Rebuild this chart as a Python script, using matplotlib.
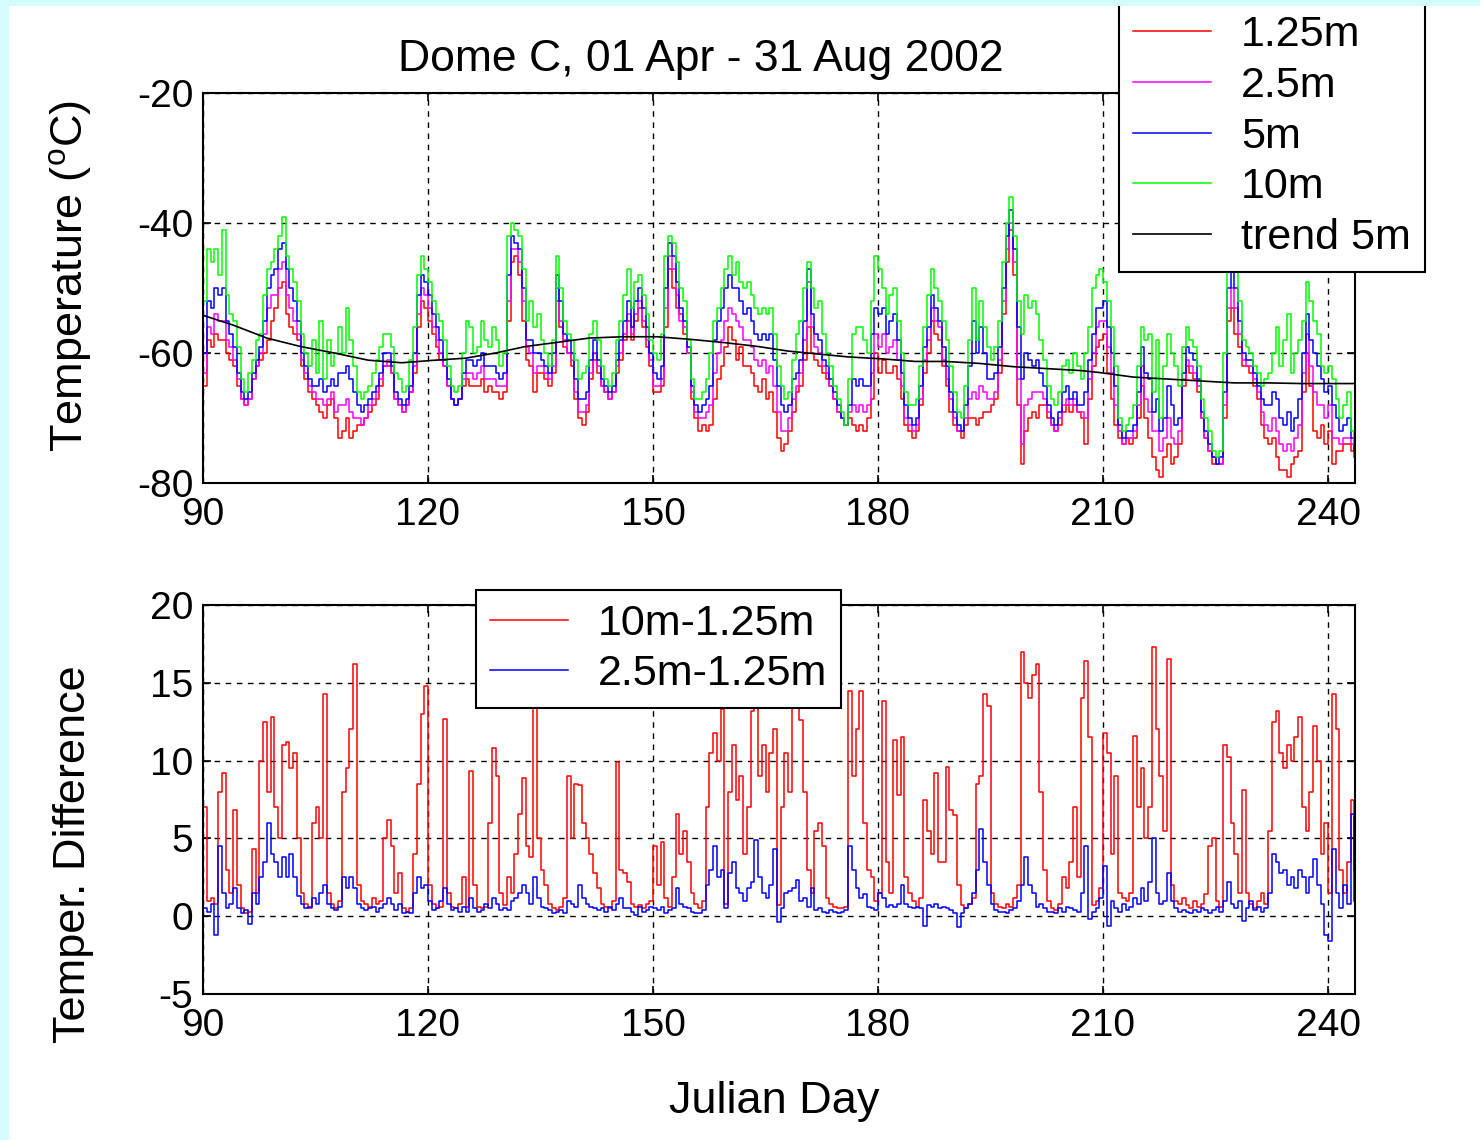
################################################################
# -*- coding: utf-8 -*-
################################################################
import numpy as np
import matplotlib as ml
ml.use('Agg')
from matplotlib import pyplot as plt
from matplotlib.patches import Rectangle
################################################################

# half-day samples, Julian day 90 .. 243.5
days = np.arange(90, 244, 0.5)

t10 = [-52, -44, -46, -44, -48, -41, -51, -54, -55, -59,
       -64, -66, -63, -61, -58, -57, -51, -47, -46, -44,
       -42, -39, -45, -47, -49, -52, -57, -60, -62, -58,
       -63, -55, -64, -58, -62, -60, -56, -60, -53, -58,
       -62, -66, -67, -66, -65, -63, -61, -59, -57, -57,
       -59, -63, -64, -66, -65, -61, -56, -48, -45, -47,
       -49, -52, -54, -55, -58, -62, -65, -66, -65, -60,
       -55, -56, -60, -59, -55, -58, -59, -56, -58, -62,
       -60, -42, -40, -41, -42, -47, -55, -52, -56, -54,
       -58, -60, -62, -58, -45, -50, -55, -57, -58, -61,
       -64, -63, -62, -57, -55, -58, -62, -64, -65, -63,
       -58, -55, -51, -47, -53, -49, -48, -51, -54, -58,
       -60, -61, -57, -45, -42, -43, -46, -50, -52, -58,
       -64, -67, -67, -66, -64, -60, -55, -53, -50, -47,
       -45, -48, -46, -49, -50, -49, -51, -53, -54, -53,
       -54, -53, -57, -62, -65, -67, -66, -61, -57, -55,
       -50, -46, -50, -53, -52, -57, -60, -62, -65, -67,
       -69, -71, -64, -57, -56, -56, -58, -60, -52, -45,
       -47, -50, -54, -51, -50, -55, -60, -66, -68, -68,
       -67, -62, -56, -51, -47, -50, -52, -55, -58, -62,
       -66, -69, -70, -65, -58, -50, -58, -52, -56, -59,
       -61, -59, -55, -46, -40, -36, -42, -52, -57, -51,
       -53, -52, -54, -58, -61, -65, -67, -68, -66, -62,
       -61, -63, -60, -62, -64, -60, -56, -50, -48, -47,
       -49, -52, -56, -62, -70, -72, -71, -70, -68, -62,
       -56, -58, -57, -66, -58, -70, -62, -57, -60, -62,
       -65, -59, -56, -58, -59, -62, -67, -70, -72, -75,
       -76, -75, -60, -46, -44, -47, -52, -58, -59, -60,
       -62, -63, -65, -64, -63, -60, -56, -62, -58, -54,
       -63, -60, -58, -55, -49, -52, -55, -57, -62, -63,
       -62, -64, -67, -70, -68, -66, -72, -74]

t5 = [-60, -52, -53, -50, -51, -50, -55, -57, -59, -63,
      -66, -67, -66, -63, -61, -59, -55, -50, -48, -47,
      -44, -43, -47, -50, -52, -55, -60, -62, -64, -65,
      -65, -64, -66, -65, -64, -65, -63, -63, -62, -64,
      -66, -68, -69, -68, -67, -66, -65, -63, -60, -60,
      -62, -66, -67, -68, -67, -65, -60, -51, -48, -49,
      -51, -54, -56, -58, -61, -64, -67, -68, -67, -63,
      -61, -61, -62, -61, -60, -62, -62, -62, -63, -64,
      -63, -48, -42, -43, -44, -50, -58, -58, -60, -60,
      -61, -62, -63, -60, -48, -52, -57, -58, -60, -64,
      -67, -67, -66, -61, -58, -61, -64, -65, -66, -65,
      -61, -58, -55, -52, -56, -52, -50, -53, -56, -60,
      -63, -64, -62, -50, -43, -45, -49, -53, -55, -59,
      -65, -68, -69, -68, -67, -65, -58, -55, -53, -50,
      -48, -50, -50, -52, -54, -53, -55, -57, -58, -57,
      -58, -57, -61, -65, -68, -69, -68, -64, -63, -61,
      -55, -47, -54, -57, -58, -61, -62, -64, -66, -68,
      -70, -71, -68, -64, -65, -64, -65, -65, -57, -53,
      -54, -53, -57, -55, -54, -58, -63, -68, -70, -71,
      -70, -65, -59, -56, -51, -53, -55, -59, -62, -66,
      -69, -71, -72, -68, -62, -55, -60, -56, -60, -64,
      -64, -63, -59, -50, -42, -38, -44, -56, -64, -60,
      -61, -62, -61, -63, -65, -68, -70, -71, -69, -66,
      -65, -67, -66, -68, -68, -66, -61, -57, -53, -53,
      -52, -56, -60, -65, -71, -73, -72, -72, -71, -66,
      -59, -63, -64, -69, -67, -72, -70, -65, -68, -71,
      -70, -63, -59, -60, -61, -64, -69, -72, -74, -76,
      -77, -76, -66, -50, -47, -50, -55, -60, -61, -61,
      -63, -65, -67, -68, -68, -66, -67, -70, -71, -69,
      -72, -70, -67, -60, -54, -58, -60, -62, -64, -66,
      -65, -68, -70, -72, -71, -70, -73, -75]

t25 = [-63, -56, -57, -54, -55, -55, -58, -59, -61, -64,
       -67, -68, -67, -64, -62, -60, -57, -53, -51, -51,
       -47, -46, -51, -53, -55, -57, -61, -63, -65, -66,
       -67, -67, -68, -67, -66, -69, -68, -68, -67, -69,
       -70, -70, -71, -70, -68, -67, -66, -64, -62, -61,
       -63, -67, -68, -69, -68, -66, -62, -54, -50, -51,
       -53, -56, -58, -60, -62, -65, -67, -68, -67, -64,
       -63, -63, -64, -63, -62, -64, -64, -64, -65, -65,
       -65, -52, -44, -44, -46, -52, -59, -60, -63, -62,
       -62, -63, -64, -62, -50, -55, -58, -60, -61, -66,
       -69, -69, -68, -63, -60, -62, -65, -66, -67, -66,
       -62, -60, -57, -54, -57, -54, -52, -55, -58, -61,
       -65, -65, -64, -53, -45, -47, -51, -55, -56, -60,
       -66, -69, -70, -70, -69, -68, -63, -60, -58, -55,
       -53, -54, -55, -56, -58, -58, -59, -61, -62, -61,
       -63, -62, -65, -69, -72, -72, -70, -67, -65, -63,
       -58, -49, -56, -59, -60, -62, -63, -65, -67, -69,
       -70, -71, -69, -68, -69, -68, -69, -68, -63, -57,
       -59, -57, -60, -59, -58, -61, -65, -70, -71, -72,
       -71, -67, -61, -58, -53, -55, -56, -61, -64, -67,
       -70, -72, -72, -70, -67, -66, -67, -65, -66, -67,
       -67, -66, -61, -52, -44, -40, -46, -64, -74, -68,
       -67, -66, -66, -66, -67, -69, -71, -72, -70, -68,
       -67, -68, -67, -69, -69, -70, -64, -60, -56, -55,
       -55, -59, -63, -68, -72, -74, -73, -73, -72, -68,
       -62, -67, -69, -72, -72, -75, -73, -70, -73, -74,
       -72, -64, -61, -62, -63, -65, -70, -73, -75, -76,
       -77, -77, -68, -53, -50, -53, -57, -61, -62, -62,
       -64, -66, -69, -71, -72, -70, -72, -74, -75, -74,
       -75, -73, -71, -63, -57, -62, -66, -68, -68, -70,
       -68, -73, -73, -74, -73, -73, -74, -75]

t125 = [-65, -58, -59, -57, -58, -58, -60, -61, -62, -65,
        -67, -68, -67, -64, -62, -61, -60, -58, -55, -53,
        -50, -49, -54, -56, -57, -58, -62, -64, -66, -67,
        -68, -69, -70, -68, -67, -70, -73, -72, -70, -73,
        -72, -71, -71, -70, -69, -68, -67, -65, -62, -62,
        -63, -67, -68, -69, -68, -66, -63, -56, -52, -53,
        -55, -57, -59, -61, -62, -65, -67, -68, -67, -65,
        -64, -65, -65, -65, -64, -66, -65, -66, -66, -67,
        -66, -55, -46, -45, -48, -55, -61, -62, -66, -63,
        -63, -64, -65, -63, -52, -56, -59, -60, -62, -67,
        -70, -71, -69, -64, -61, -63, -65, -66, -67, -66,
        -63, -61, -58, -55, -58, -55, -53, -56, -59, -62,
        -66, -66, -65, -56, -47, -50, -53, -54, -57, -60,
        -67, -70, -72, -71, -72, -71, -67, -64, -62, -59,
        -56, -58, -61, -59, -62, -62, -63, -65, -66, -64,
        -67, -66, -69, -73, -75, -74, -72, -69, -66, -65,
        -61, -56, -60, -61, -62, -63, -64, -65, -67, -69,
        -70, -71, -70, -71, -72, -71, -72, -70, -67, -60,
        -63, -61, -63, -63, -62, -64, -67, -71, -72, -73,
        -72, -68, -63, -60, -55, -57, -58, -62, -65, -69,
        -71, -72, -73, -71, -70, -70, -71, -70, -69, -69,
        -68, -67, -63, -54, -46, -41, -48, -68, -77, -72,
        -70, -69, -70, -68, -68, -70, -71, -72, -71, -69,
        -68, -69, -68, -69, -70, -74, -67, -62, -59, -58,
        -57, -63, -67, -71, -73, -74, -73, -74, -73, -70,
        -65, -70, -73, -76, -78, -79, -76, -74, -77, -76,
        -74, -65, -62, -63, -64, -66, -70, -73, -75, -77,
        -77, -77, -70, -55, -53, -57, -59, -62, -62, -63,
        -65, -67, -71, -73, -74, -73, -76, -78, -78, -79,
        -77, -76, -75, -66, -60, -65, -72, -73, -71, -74,
        -72, -77, -75, -75, -74, -74, -75, -76]

trend_days = [90, 94, 98.5, 103, 107.5, 112, 116.5, 121, 125, 129,
              133, 137, 141.5, 146, 150.5, 155, 159.5, 164, 168, 171.5,
              176, 180.5, 185, 189, 193.5, 198, 202.5, 207, 209.5, 214,
              218.5, 223, 227.5, 232, 236.5, 243.5]
trend5 = [-54.2, -55.7, -57.7, -59.0, -60.0, -61.1, -61.5, -61.1, -60.8, -60.0,
          -59.0, -58.4, -57.7, -57.5, -57.5, -57.9, -58.4, -59.0, -59.7, -60.1,
          -60.6, -60.9, -61.3, -61.3, -61.6, -62.1, -62.4, -62.7, -63.0, -63.7,
          -64.0, -64.3, -64.6, -64.6, -64.7, -64.7]

# 10m - 1.25m
d10 = [7, 1, 1.2, 0.8, 8, 9.2, 3, 1.5, 6.8, 2,
       0.5, 0.2, 0.3, 4.3, 1.5, 10, 12.5, 8, 12.8, 7,
       5, 11, 11.2, 9.5, 10.5, 5, 1.5, 0.8, 0.5, 6,
       7, 5, 14.3, 1.5, 0.8, 0.5, 1, 8, 9.5, 12,
       16.2, 2, 1, 0.8, 0.6, 1.2, 0.8, 1, 5, 6.2,
       4.5, 1.5, 2.8, 0.5, 0.3, 0.5, 4, 8.5, 13, 14.8,
       2, 0.8, 0.5, 0.6, 12.7, 1.5, 0.6, 0.5, 0.8, 2.5,
       0.6, 9.3, 2, 0.6, 0.5, 0.6, 6, 10.8, 9, 1.5,
       0.7, 2.5, 1.5, 4, 6.6, 8.9, 4.5, 3.8, 13.8, 5,
       3, 2, 0.8, 0.5, 0.4, 0.6, 1.2, 9, 5, 8.5,
       8.4, 6, 5, 4, 2.8, 1.8, 0.8, 0.6, 0.5, 1,
       9.9, 3, 2.8, 2.2, 0.8, 0.6, 0.7, 0.5, 0.8, 1,
       4.5, 2, 4.8, 1.2, 0.6, 2.5, 6.6, 4, 5.5, 3.5,
       1.5, 0.8, 0.5, 1, 7, 10.5, 11.8, 10, 13.3, 0.8,
       8, 11, 7.5, 9, 4, 7, 13.2, 13.8, 9, 11,
       8, 10.5, 12, 0.7, 7, 10.5, 8, 15, 14, 12.6,
       8, 3, 1.5, 5.5, 6, 4.5, 1.2, 0.8, 0.6, 0.5,
       0.5, 0.6, 14.5, 9, 12, 14.5, 6, 3, 2.5, 1,
       1.5, 13.8, 3.5, 1.5, 11.3, 7.8, 11.5, 2.5, 1.5, 1,
       0.6, 1.2, 7.5, 5.5, 4, 9.2, 3.5, 3.5, 9.6, 6.8,
       6.5, 2, 0.7, 0.5, 0.8, 1.2, 8.5, 9, 14.3, 13.5,
       1.5, 0.8, 0.6, 0.5, 0.8, 0.6, 1.2, 2, 17, 15,
       14, 15.5, 16.2, 8, 3, 1, 0.5, 0.4, 0.8, 2.5,
       1.8, 3.5, 7, 2.5, 14, 16.4, 11.5, 0.7, 1, 1.8,
       11.8, 10.5, 4, 9, 1.5, 1.2, 1, 1.5, 11.6, 7,
       9.5, 5, 7, 17.3, 12, 9, 5.5, 16.5, 2, 1,
       0.8, 1.2, 0.7, 0.5, 1, 0.6, 0.8, 1.4, 4.5, 5,
       1, 0.6, 11, 10.2, 6, 4, 1.5, 8.1, 1.5, 0.8,
       0.5, 1, 1.5, 0.8, 5.5, 12.5, 13.2, 10.5, 9.5, 11,
       10, 11.5, 12.8, 7, 5.5, 8, 12.2, 10, 4, 6,
       1.5, 14.3, 12, 3, 1.5, 3.5, 7.5, 3]

# 2.5m - 1.25m
d25 = [0.5, 0.3, 0.8, -1.2, 4.5, 1.5, 0.5, 0.8, 1.8, 0.5,
       0.2, 0.4, -0.5, 1.5, 0.8, 2.5, 3.5, 6, 4, 3.5,
       2.5, 3.8, 2.5, 4, 2.5, 1.3, 0.8, 0.5, 0.6, 1.2,
       0.8, 1.5, 2, 0.8, 0.5, 0.4, 0.6, 2.5, 1.8, 2.5,
       1.8, 0.8, 0.5, 0.4, 0.5, 0.6, 0.3, 0.5, 0.8, 1.2,
       0.8, 0.4, 0.8, 0.2, 0.3, 0.2, 1.5, 2.5, 1.8, 2,
       1, 0.4, 0.5, 1, 1.8, 0.8, 0.4, 0.5, 0.3, 0.6,
       0.3, 1.2, 0.5, 0.3, 0.4, 0.8, 0.5, 1.2, 0.8, 0.4,
       0.5, 0.4, 1, 1.2, 1.5, 2, 1.5, 0.8, 2.5, 1.2,
       0.6, 0.5, 0.4, 0.2, 0.3, 0.4, 0.2, 1, 0.8, 0.6,
       2, 1.2, 0.8, 0.6, 0.5, 0.4, 0.5, 0.3, 0.6, 0.4,
       0.8, 1.2, 0.5, 0.5, 0.3, 0.1, 0.6, 0.3, 0.4, 0.6,
       0.5, 0.4, 0.6, 0.2, 0.4, 0.5, 1.8, 0.8, 0.6, 0.5,
       0.3, 0.2, 0.2, 0.4, 2, 3, 4.5, 2.5, 3, 0.5,
       2.8, 3.5, 1.8, 1.5, 1, 1.8, 2.2, 4.9, 2.5, 1.5,
       1.2, 2, 4.3, -0.4, 0.5, 1.5, 1.6, 1.8, 2.3, 1,
       1.2, 0.6, 1.8, 0.4, 0.5, 0.3, 0.2, 0.4, 0.3, 0.2,
       0.3, 0.4, 4.5, 3, 1.8, 1.2, 1.4, 0.6, 0.5, 0.4,
       1.5, 1.2, 0.6, 0.7, 0.6, 0.8, 2, 0.8, 0.6, 0.5,
       0.6, 0.5, -0.6, 0.7, 0.6, 0.8, 0.5, 0.6, 0.5, 0.4,
       0.2, -0.7, 0.2, 0.5, 0.8, 1.5, 3, 5.6, 3.5, 2,
       0.8, 0.4, 0.3, 0.3, 0.2, 0.4, 0.5, 1, 2, 3.8,
       2, 1.5, 0.6, 0.8, 0.5, 0.3, 0.3, 0.2, 0.5, 0.3,
       0.6, 0.5, 0.4, 0.3, 1.5, 4.5, -0.2, 0.3, 0.5, 1.2,
       3.2, -0.6, 1, 0.5, 0.3, 0.8, 0.4, 0.6, 1.2, 0.8,
       1.8, 1, 2.2, 5, 1.5, 0.8, 1, 2.8, 1, 0.5,
       0.3, 0.4, 0.3, 0.2, 0.4, 0.3, 0.5, 0.4, 0.2, 0.4,
       0.6, 0.3, 1, 2.2, 0.8, 0.5, 1, -0.3, 0.5, 1,
       0.4, 0.6, 0.3, 0.5, 1.5, 4, 3.5, 2.8, 3, 2,
       2.5, 1.8, 3, 2.5, 1.5, 2.5, 3.7, 2, 0.8, -1.2,
       -1.6, 4.3, 1.5, 0.5, 2, 0.8, 6.6, 1]

xticks = [90, 120, 150, 180, 210, 240]
################################################################

plt.rcParams['font.family'] = ['Liberation Sans', 'DejaVu Sans']
plt.rcParams['font.size'] = 28
plt.rcParams['axes.unicode_minus'] = False
plt.rcParams['mathtext.default'] = 'regular'

W, H = 1480, 1140
fig = plt.figure(figsize=(W / 100, H / 100), dpi=100, facecolor='white')

def box(l, t, r, b):
    return [l / W, 1 - b / H, (r - l) / W, (b - t) / H]

ax1 = fig.add_axes(box(203, 93, 1355, 483))
ax2 = fig.add_axes(box(203, 605, 1355, 994))

lw = 1.1
st = 'steps-post'
ax1.plot(days, t125, color='#ff0000', lw=lw, drawstyle=st, label='1.25m')
ax1.plot(days, t25, color='#ff00ff', lw=lw, drawstyle=st, label='2.5m')
ax1.plot(days, t5, color='#0000ff', lw=lw, drawstyle=st, label='5m')
ax1.plot(days, t10, color='#00ff00', lw=lw, drawstyle=st, label='10m')
ax1.plot(trend_days, trend5, color='black', lw=1.2, label='trend 5m')

ax2.plot(days, d10, color='#ff0000', lw=lw, drawstyle=st, label='10m-1.25m')
ax2.plot(days, d25, color='#0000ff', lw=lw, drawstyle=st, label='2.5m-1.25m')

ax1.set_ylim(-80, -20)
ax1.set_yticks([-80, -60, -40, -20])
ax2.set_ylim(-5, 20)
ax2.set_yticks([-5, 0, 5, 10, 15, 20])

for ax in (ax1, ax2):
    ax.set_xlim(90, 243.6)
    ax.set_xticks(xticks)
    ax.grid(True, color='black', linestyle=(0, (4, 4)), linewidth=1.0)
    ax.tick_params(direction='in', length=6, width=1.2, top=True, right=True,
                   labelsize=28)
    ax.tick_params(axis='x', pad=10)
    ax.tick_params(axis='y', pad=7)
    for s in ax.spines.values():
        s.set_linewidth(1.5)

ax1.set_ylabel('Temperature ($^o$C)', fontsize=32.5)
ax2.set_ylabel('Temper. Difference', fontsize=32.5)
ax1.yaxis.set_label_coords(-0.095, 0.53)
ax2.yaxis.set_label_coords(-0.095, 0.36)
fig.text(774 / W, 1 - 1102 / H, 'Julian Day', ha='center', va='center', fontsize=32.5)
fig.text(701 / W, 1 - 60 / H, 'Dome C, 01 Apr - 31 Aug 2002', ha='center', va='center',
         fontsize=32)

leg_kw = dict(fontsize=31, frameon=True, fancybox=False, framealpha=1,
              edgecolor='black', handlelength=1.8, handletextpad=0.7,
              labelspacing=0.25, borderpad=0.33, borderaxespad=0)
leg1 = ax1.legend(loc='upper left', bbox_to_anchor=(1119 / W, 1 - 1 / H),
                  bbox_transform=fig.transFigure, **leg_kw)
leg1.get_frame().set_linewidth(1.5)
leg2 = ax2.legend(loc='upper left', bbox_to_anchor=(476 / W, 1 - 590 / H),
                  bbox_transform=fig.transFigure,
                  **dict(leg_kw, labelspacing=0.22))
leg2.get_frame().set_linewidth(1.5)

# light cyan page border (top and left)
fig.add_artist(Rectangle((0, 1 - 6 / H), 1, 6 / H, transform=fig.transFigure,
                         facecolor='#d5fcfc', edgecolor='none', zorder=10))
fig.add_artist(Rectangle((0, 0), 9 / W, 1, transform=fig.transFigure,
                         facecolor='#d5fcfc', edgecolor='none', zorder=10))

plt.savefig('out.png', dpi=100)
